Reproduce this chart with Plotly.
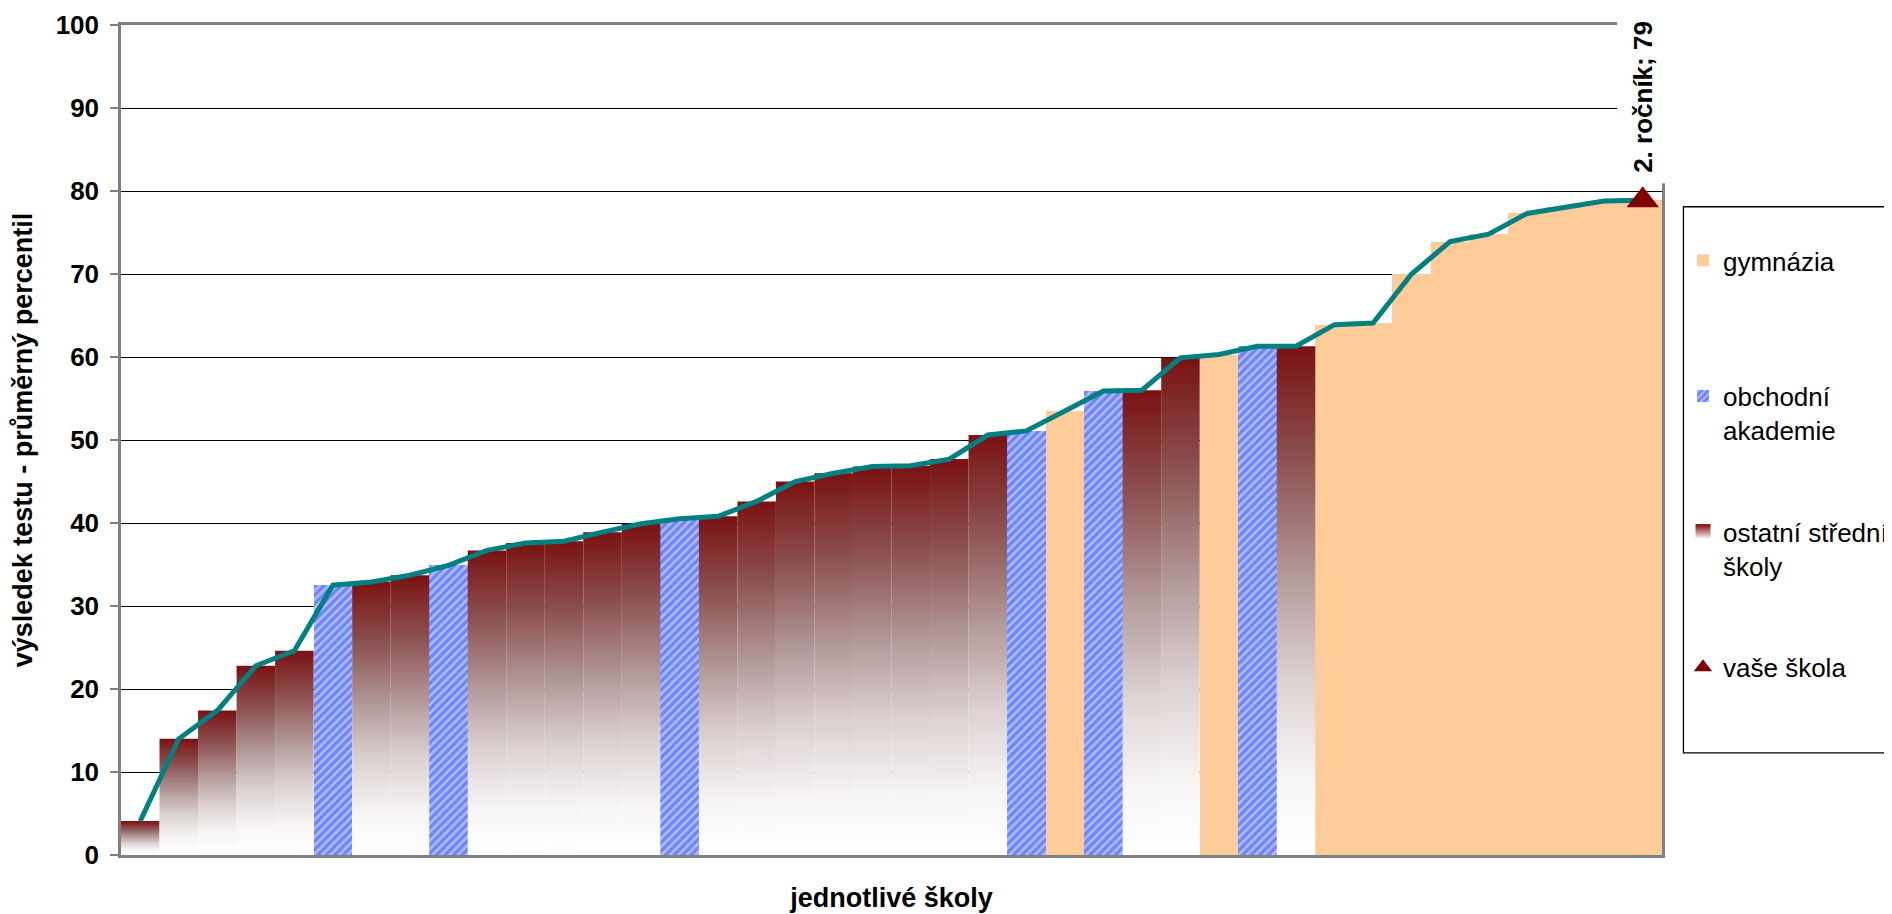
import plotly.graph_objects as go

# ---------------- data ----------------
schools = list(range(1, 41))
school_type = ["O", "O", "O", "O", "O", "A", "O", "O", "A", "O",
               "O", "O", "O", "O", "A", "O", "O", "O", "O", "O",
               "O", "O", "O", "A", "G", "A", "O", "O", "G", "A",
               "O", "G", "G", "G", "G", "G", "G", "G", "G", "G"]
values = [4.1, 14.0, 17.4, 22.8, 24.6, 32.5, 32.9, 33.7, 34.9, 36.7,
          37.6, 37.8, 38.9, 39.9, 40.5, 40.8, 42.6, 45.0, 46.0, 46.8,
          46.9, 47.7, 50.6, 51.1, 53.5, 55.9, 56.0, 59.9, 60.3, 61.3,
          61.3, 63.9, 64.1, 70.0, 73.9, 74.8, 77.3, 78.1, 78.8, 78.9]
your_school_x = [40]
your_school_y = [78.9]
your_school_series = "2. ročník"
name_gym = "gymnázia<br> "
name_oa = "obchodní<br>akademie"
name_other = "ostatní střední<br>školy"
name_yours = "vaše škola"
y_tick_values = [0, 10, 20, 30, 40, 50, 60, 70, 80, 90, 100]
x_title = "jednotlivé školy"
y_title = "výsledek testu - průměrný percentil"

# ---------------- styles ----------------
FONT = "Liberation Sans, Arial, sans-serif"
GYM_COLOR = "#FFCC99"
OA_FG = "#2a4dff"
OA_BG = "#aebbff"
TEAL = "#008080"
DARK_RED = "#7f0000"
GRAD = [[0.0, "#ffffff"], [0.15, "#f7f5f5"], [0.35, "#dcd0d0"],
        [0.55, "#b39999"], [0.78, "#8c5050"], [1.0, "#7a1212"]]

fig = go.Figure()

gx = [x for x, t in zip(schools, school_type) if t == "G"]
gy = [v for v, t in zip(values, school_type) if t == "G"]
fig.add_trace(go.Bar(x=gx, y=gy, width=1, name=name_gym, legendgroup="G",
                     legendrank=1, marker=dict(color=GYM_COLOR, line=dict(width=0))))

ax = [x for x, t in zip(schools, school_type) if t == "A"]
ay = [v for v, t in zip(values, school_type) if t == "A"]
fig.add_trace(go.Bar(x=ax, y=ay, width=1, name=name_oa, legendgroup="A",
                     legendrank=2,
                     marker=dict(color=OA_BG, line=dict(width=0),
                                 pattern=dict(shape="/", fgcolor=OA_FG, bgcolor=OA_BG,
                                              size=6, solidity=0.55))))

for x, v, t in zip(schools, values, school_type):
    if t != "O":
        continue
    fig.add_trace(go.Scatter(
        x=[x - 0.5, x + 0.5, x + 0.5, x - 0.5, x - 0.5],
        y=[0, 0, v, v, 0],
        mode="lines", fill="toself", line=dict(width=0, color=DARK_RED),
        fillgradient=dict(type="vertical", colorscale=GRAD),
        name=name_other, legendgroup="O", showlegend=False, hoverinfo="skip"))

# legend entry for the gradient bars
fig.add_trace(go.Scatter(x=[None], y=[None], mode="markers", name=name_other,
                         legendgroup="O", legendrank=3,
                         marker=dict(symbol="square", size=15, color=DARK_RED,
                                     gradient=dict(type="vertical", color="white"))))

fig.add_trace(go.Scatter(x=schools, y=values, mode="lines",
                         line=dict(color=TEAL, width=5), showlegend=False,
                         hoverinfo="skip"))

fig.add_trace(go.Scatter(x=your_school_x, y=your_school_y, mode="markers",
                         name=name_yours, legendgroup="V", legendrank=4,
                         marker=dict(symbol="triangle-up", size=28, color=DARK_RED)))

fig.add_annotation(x=your_school_x[0], y=your_school_y[0],
                   text=f"{your_school_series}; {round(your_school_y[0])}",
                   textangle=-90, showarrow=False, yanchor="bottom", yshift=16,
                   bgcolor="white", borderpad=10,
                   font=dict(family=FONT, size=26, color="black", weight="bold"))

# legend frame
fig.add_shape(type="rect", xref="paper", yref="paper",
              x0=1.0139, x1=1.2, y0=0.123, y1=0.781,
              line=dict(color="black", width=1.3), fillcolor="rgba(0,0,0,0)",
              layer="below")

fig.update_layout(
    width=1892, height=914,
    margin=dict(l=113, r=238, t=17, b=67, autoexpand=False),
    paper_bgcolor="white", plot_bgcolor="white",
    barmode="overlay", bargap=0,
    font=dict(family=FONT, color="black"),
    showlegend=True,
    legend=dict(xref="container", yref="container", x=1675 / 1892, y=1 - 229 / 914,
                xanchor="left", yanchor="top", bgcolor="rgba(0,0,0,0)",
                borderwidth=0, tracegroupgap=65, traceorder="grouped", valign="top",
                font=dict(family=FONT, size=26, color="black"), itemwidth=30),
    xaxis=dict(range=[0.5, 40.5], showticklabels=False, ticks="", showgrid=False,
               zeroline=False, showline=True, linecolor="#808080", linewidth=2.5,
               mirror=True,
               title=dict(text=x_title, standoff=32,
                          font=dict(family=FONT, size=27, color="black", weight="bold"))),
    yaxis=dict(range=[0, 100], tickvals=y_tick_values, showgrid=True,
               gridcolor="black", gridwidth=1, zeroline=False,
               showline=True, linecolor="#808080", linewidth=2.5, mirror=True,
               ticks="outside", ticklen=8, tickwidth=2, tickcolor="#808080",
               ticklabelstandoff=6,
               tickfont=dict(family=FONT, size=26, color="black", weight="bold"),
               title=dict(text=y_title, standoff=16,
                          font=dict(family=FONT, size=27, color="black", weight="bold"))),
)

fig.write_html("out.html")
